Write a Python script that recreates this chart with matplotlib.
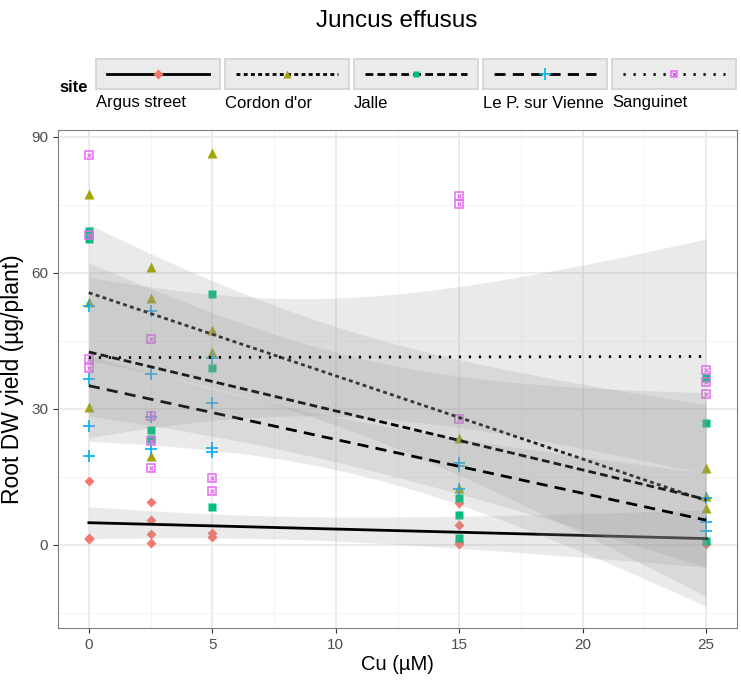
import numpy as np
import matplotlib.pyplot as plt

plt.rcParams['font.family'] = ['Liberation Sans', 'DejaVu Sans']

# site data (Cu in uM, root DW yield in ug/plant)
sites = ['Argus street', 'Cordon d\'or', 'Jalle', 'Le P. sur Vienne', 'Sanguinet']

argus_x = [0, 0, 0, 2.5, 2.5, 2.5, 2.5, 5, 5, 15, 15, 15, 15, 25]
argus_y = [14.2, 1.5, 1.3, 9.5, 5.5, 2.4, 0.4, 2.7, 1.7, 9.3, 4.4, 0.7, 0.3, 0.2]

cordon_x = [0, 0, 0, 2.5, 2.5, 2.5, 5, 5, 5, 15, 15, 25, 25, 25]
cordon_y = [77.4, 53.5, 30.4, 61.4, 54.4, 19.6, 86.5, 47.4, 42.5, 23.5, 12.6, 16.9, 10.7, 8.2]

jalle_x = [0, 0, 2.5, 2.5, 5, 5, 5, 15, 15, 15, 25, 25, 25]
jalle_y = [69.3, 67.4, 25.4, 23.3, 55.3, 39.1, 8.3, 10.3, 6.6, 1.5, 36.9, 26.9, 0.9]

lep_x = [0, 0, 0, 0, 2.5, 2.5, 2.5, 2.5, 5, 5, 5, 5, 15, 15, 15, 25, 25, 25]
lep_y = [52.8, 36.5, 26.3, 19.6, 51.5, 37.7, 28.2, 21.1, 41.2, 31.4, 21.3, 20.4,
         18.0, 17.5, 12.4, 10.4, 5.0, 3.0]

sang_x = [0, 0, 0, 0, 2.5, 2.5, 2.5, 2.5, 5, 5, 15, 15, 15, 25, 25, 25]
sang_y = [86.0, 68.4, 41.1, 39.0, 45.4, 28.5, 22.9, 16.9, 14.7, 11.9, 77.0, 75.2, 27.7,
          38.6, 36.0, 33.2]

data_x = [argus_x, cordon_x, jalle_x, lep_x, sang_x]
data_y = [argus_y, cordon_y, jalle_y, lep_y, sang_y]

colors = ['#F8766D', '#A3A500', '#00BF7D', '#00B0F6', '#E76BF3']
markers = ['D', '^', 's', '+', 's']
msizes = [5.5, 6.5, 5.5, 9, 5.5]
dashes = [None, (1.4, 1.2), (2.8, 1.5), (4.0, 2.6), (0.8, 2.8)]

# t quantiles (0.975) for lm confidence bands
t975 = {10: 2.228, 11: 2.201, 12: 2.179, 13: 2.160, 14: 2.145, 15: 2.131, 16: 2.120}


def draw_point(ax, x, y, i, ms):
    if i == 4:
        ax.plot(x, y, ls='none', marker='s', ms=ms, mfc='none', mec=colors[i], mew=1.1, zorder=2)
        ax.plot(x, y, ls='none', marker='x', ms=ms * 0.55, mec=colors[i], mew=0.9, zorder=2)
    elif i == 3:
        ax.plot(x, y, ls='none', marker='+', ms=ms, mec=colors[i], mew=1.2, zorder=2)
    else:
        ax.plot(x, y, ls='none', marker=markers[i], ms=ms, mfc=colors[i], mec='none', zorder=2)


fig = plt.figure(figsize=(7.41, 6.85), dpi=100)
ax = fig.add_axes([58 / 741, 1 - 628 / 685, 679 / 741, 498 / 685])

for i in range(5):
    draw_point(ax, data_x[i], data_y[i], i, msizes[i])

# linear fits with 95% confidence ribbons, like geom_smooth(method='lm')
xs = np.linspace(0, 25, 80)
for i in range(5):
    x = np.array(data_x[i], float)
    y = np.array(data_y[i], float)
    n = len(x)
    b, a = np.polyfit(x, y, 1)
    res = y - (a + b * x)
    s = np.sqrt(np.sum(res ** 2) / (n - 2))
    sxx = np.sum((x - x.mean()) ** 2)
    fit = a + b * xs
    se = s * np.sqrt(1 / n + (xs - x.mean()) ** 2 / sxx)
    t = t975[n - 2]
    ax.fill_between(xs, fit - t * se, fit + t * se, color='#999999', alpha=0.2, lw=0,
                    zorder=3 + 2 * i)
    ln, = ax.plot(xs, fit, color='black', lw=2.0, zorder=4 + 2 * i)
    if dashes[i] is not None:
        ln.set_dashes(dashes[i])

ax.set_xlim(-1.25, 26.25)
ax.set_ylim(-18.3, 91.5)
ax.set_xticks([0, 5, 10, 15, 20, 25])
ax.set_xticks([2.5, 7.5, 12.5, 17.5, 22.5], minor=True)
ax.set_yticks([0, 30, 60, 90])
ax.set_yticks([-15, 15, 45, 75], minor=True)
ax.grid(which='major', color='#E6E6E6', lw=1.1)
ax.grid(which='minor', color='#F4F4F4', lw=0.7)
ax.set_axisbelow(True)
ax.tick_params(which='major', length=3.5, color='#333333', labelsize=11, labelcolor='#4D4D4D')
ax.tick_params(which='minor', length=0)
for sp in ax.spines.values():
    sp.set_color('#7F7F7F')
ax.set_xlabel('Cu (µM)', fontsize=14.5, labelpad=2)
ax.set_ylabel('Root DW yield (µg/plant)', fontsize=16.5, labelpad=5)

fig.text(397 / 741, 1 - 21 / 685, 'Juncus effusus', ha='center', va='center', fontsize=17.5)

# legend on top
fig.text(88 / 741, 1 - 87 / 685, 'site', ha='right', va='center', fontsize=12, fontweight='bold')
box_x = [96, 225, 354, 483, 612]
for i in range(5):
    kax = fig.add_axes([box_x[i] / 741, 1 - 89 / 685, 124 / 741, 30 / 685])
    kax.set_xlim(0, 1)
    kax.set_ylim(0, 1)
    kax.set_facecolor('#EBEBEB')
    for sp in kax.spines.values():
        sp.set_color('#D2D2D2')
        sp.set_linewidth(1.2)
    kax.set_xticks([])
    kax.set_yticks([])
    ln, = kax.plot([0.09, 0.91], [0.5, 0.5], color='black', lw=2.0)
    if dashes[i] is not None:
        ln.set_dashes(dashes[i])
    draw_point(kax, [0.5], [0.5], i, msizes[i] * 0.9)
    fig.text(box_x[i] / 741, 1 - 103 / 685, sites[i], ha='left', va='center', fontsize=12)

fig.savefig('out.png', dpi=100)
